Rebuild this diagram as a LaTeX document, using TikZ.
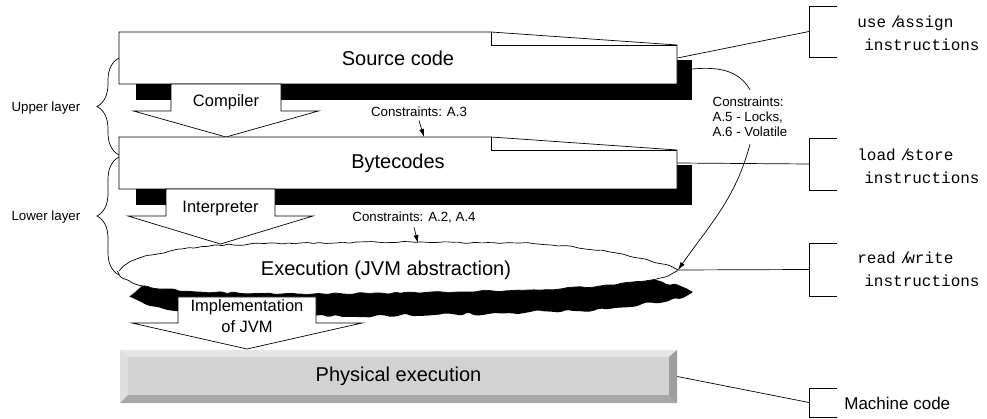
\documentclass[tikz,border=0pt]{standalone}
\usepackage{fontspec}
\setmainfont{Liberation Sans}
\setmonofont{Liberation Mono}
\usetikzlibrary{arrows.meta,decorations.pathreplacing,decorations.pathmorphing}

\definecolor{bevelface}{HTML}{D2D2D2}
\definecolor{bevellight}{HTML}{E6E6E6}
\definecolor{bevelleft}{HTML}{DEDEDE}
\definecolor{beveldark}{HTML}{A8A8A8}
\definecolor{bevelright}{HTML}{9E9E9E}

\tikzset{
  layertext/.style={font=\fontsize{20}{24}\selectfont},
  arrowtext/.style={font=\fontsize{16.5}{21}\selectfont, align=center},
  notetext/.style={font=\fontsize{13.3}{15}\selectfont},
  instrtext/.style={font=\ttfamily\fontsize{16}{23}\selectfont, align=left, anchor=west, inner sep=0pt},
  layerbrace/.style={decorate, decoration={brace, amplitude=22pt}},
}

\begin{document}
\begin{tikzpicture}[x=1pt, y=1pt, >={Latex[length=8pt,width=5pt]}, line width=0.7pt]
        \useasboundingbox (0,0) rectangle (987,-419);

        % box with black shadow and folded corner
        \newcommand{\codelayer}[3]{
            \fill (136,#2-28) rectangle (692,#2-68);
            \draw[fill=white] (119,#2-52) -- (119,#2) -- (491,#2) -- (677,#2-13) -- (677,#2-52) -- cycle;
            \draw (491,#2) -- (491,#2-13) -- (677,#2-13);
            \node[layertext, minimum width=558, minimum height=52] (#1) at (398,#2-26) {#3};
        }
        % block arrow pointing down
        \newcommand{\blockarrow}[9]{
            \draw[fill=white] (#2-#3,#5) -- (#2-#3,#6) -- (#2-#4,#6) -- (#2,#7) -- (#2+#4,#6) -- (#2+#3,#6) -- (#2+#3,#5) -- cycle;
            \node[arrowtext] (#1) at (#2,#8) {#9};
        }
        % bracket on the right
        \newcommand{\notebracket}[3]{
            \draw (837,#2) -- (809,#2) -- (809,#3) -- (837,#3);
            \coordinate (#1) at (809,{(#2+#3)/2});
        }
        \newcommand{\cloudpath}{(118,-272) -- (128,-263) -- (145,-256) -- (170,-251) -- (215,-245) -- (300,-243) -- (420,-242) -- (520,-243) -- (570,-246) -- (610,-252) -- (645,-259) -- (668,-265) -- (678,-270) -- (668,-276) -- (645,-281) -- (600,-286) -- (560,-289) -- (420,-293) -- (300,-294) -- (200,-292) -- (160,-289) -- (135,-284) -- (122,-278) -- cycle}

        \codelayer{src}{-32}{Source code}
        \blockarrow{compiler}{226}{55}{92.5}{-84}{-111}{-137}{-102}{Compiler}
        \codelayer{bc}{-137}{Bytecodes}
        \blockarrow{interp}{220.5}{54.5}{92.5}{-189}{-216}{-244}{-209}{Interpreter}

        % cloud
        \pgfmathsetseed{11}
        \begin{scope}[shift={(15,-22)}]
            \fill[decorate, decoration={random steps, segment length=7pt, amplitude=2pt}, rounded corners=2pt] \cloudpath;
        \end{scope}
        \draw[fill=white, decorate, decoration={random steps, segment length=6pt, amplitude=1pt}, rounded corners=1.5pt] \cloudpath;
        \node[layertext] (exec) at (386,-270) {Execution (JVM abstraction)};
        \coordinate (cloudE) at (678,-270);
        \coordinate (cloudN) at (418,-243);
        \blockarrow{impl}{247}{69}{115}{-297}{-323}{-349}{-316}{Implementation\\of JVM}

        % bevelled box
        \fill[bevelface] (120,-350) rectangle (677,-403);
        \fill[bevellight] (120,-350) -- (677,-350) -- (669,-357) -- (128,-357) -- cycle;
        \fill[bevelleft] (120,-350) -- (128,-357) -- (128,-395) -- (120,-403) -- cycle;
        \fill[beveldark] (120,-403) -- (128,-395) -- (669,-395) -- (677,-403) -- cycle;
        \fill[bevelright] (677,-350) -- (669,-357) -- (669,-395) -- (677,-403) -- cycle;
        \node[layertext, minimum width=557, minimum height=53] (phys) at (398.5,-376.5) {Physical execution};

        % layers
        \draw[layerbrace] (119,-155) -- (119,-58);
        \node[notetext, anchor=east] (upper) at (84,-108) {Upper layer};
        \draw[layerbrace] (119,-275) -- (119,-157);
        \node[notetext, anchor=east] (lower) at (84,-217) {Lower layer};

        % constraints
        \node[notetext] (ca3) at (419,-112) {Constraints: A.3};
        \coordinate (bctop) at (424,-137);
        \draw[->] (ca3.south) -- (bctop);
        \node[notetext] (ca24) at (414,-218) {Constraints: A.2, A.4};
        \draw[->] (ca24.south) -- (cloudN);
        \node[notetext, align=left, inner sep=7pt] (ca56) at (750,-117) {Constraints:\\A.5 - Locks,\\A.6 - Volatile};
        \coordinate (srcshadow) at (692,-69);
        \draw (srcshadow) to[out=5, in=120] (ca56.north);
        \draw[->] (ca56.south) to[out=-105, in=55] (cloudE);

        % instruction kinds
        \notebracket{usebr}{-6}{-57}
        \node[instrtext] (usetxt) at (857,-33.5) {use \makebox[0pt]{/}assign\\\hspace*{7pt}instructions};
        \notebracket{loadbr}{-138}{-190}
        \node[instrtext] (loadtxt) at (857,-166.5) {load \makebox[0pt]{/}store\\\hspace*{7pt}instructions};
        \notebracket{readbr}{-243}{-296}
        \node[instrtext] (readtxt) at (857,-269.5) {read \makebox[0pt]{/}write\\\hspace*{7pt}instructions};
        \notebracket{machbr}{-388}{-417}
        \node[font=\fontsize{17}{20}\selectfont, anchor=west, inner sep=0pt] (machtxt) at (844,-403) {Machine code};

        \draw (src.east) -- (usebr);
        \draw (bc.east) -- (loadbr);
        \draw (cloudE) -- (readbr);
        \draw (phys.east) -- (machbr);
    \end{tikzpicture}
\end{document}
